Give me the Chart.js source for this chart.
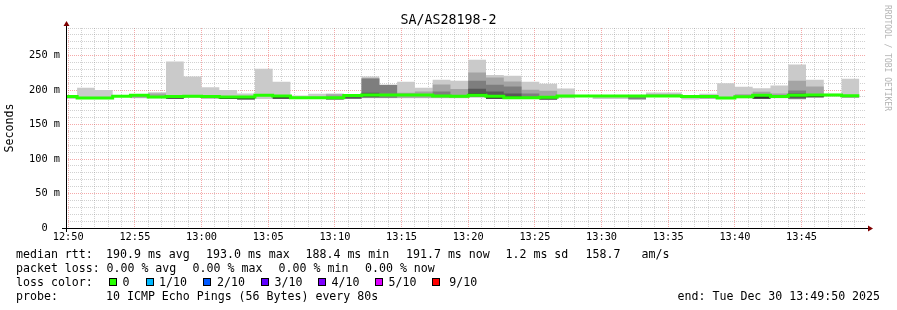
<!DOCTYPE html>
<html lang="en">
  <head>
    <meta charset="UTF-8" />
    <title>SA/AS28198-2</title>
    <style>
      body { margin: 0; background: #fff; }
      #wrap { position: relative; width: 897px; height: 310px; font-family: 'DejaVu Sans Mono', monospace; color: #000; }
      #chart { position: absolute; left: 0; top: 0; }
      #title { position: absolute; left: 0; top: 11.9px; width: 897px; text-align: center; font-size: 13.3px; line-height: 16px; }
      #mark { position: absolute; left: 891px; top: 5px; font-size: 8px; line-height: 8px; color: #b4b4b4; transform-origin: 0 0; transform: rotate(90deg); white-space: pre; }
      .t { position: absolute; white-space: pre; font-size: 11.6px; line-height: 14px; }
      .box { position: absolute; top: 277.5px; width: 6px; height: 6px; border: 1px solid #000; }
    </style>
  </head>
  <body>
    <div id="wrap">
      <canvas id="chart" width="897" height="310"></canvas>
      <div id="title">SA/AS28198-2</div>
      <div id="mark">RRDTOOL / TOBI OETIKER</div>

      <div class="t" style="left:16px;top:247px">median rtt:</div>
      <div class="t" style="left:106px;top:247px">190.9 ms avg</div>
      <div class="t" style="left:206px;top:247px">193.0 ms max</div>
      <div class="t" style="left:305.5px;top:247px">188.4 ms min</div>
      <div class="t" style="left:406px;top:247px">191.7 ms now</div>
      <div class="t" style="left:505.5px;top:247px">1.2 ms sd</div>
      <div class="t" style="left:585.5px;top:247px">158.7</div>
      <div class="t" style="left:641.5px;top:247px">am/s</div>

      <div class="t" style="left:16px;top:261px">packet loss:</div>
      <div class="t" style="left:106.5px;top:261px">0.00 % avg</div>
      <div class="t" style="left:192.6px;top:261px">0.00 % max</div>
      <div class="t" style="left:278.6px;top:261px">0.00 % min</div>
      <div class="t" style="left:365px;top:261px">0.00 % now</div>

      <div class="t" style="left:16px;top:275px">loss color:</div>
      <div class="box" style="left:108.5px;background:#26ff00"></div>
      <div class="t" style="left:122.6px;top:275px">0</div>
      <div class="box" style="left:145.5px;background:#00b8ff"></div>
      <div class="t" style="left:159px;top:275px">1/10</div>
      <div class="box" style="left:203px;background:#0059ff"></div>
      <div class="t" style="left:217px;top:275px">2/10</div>
      <div class="box" style="left:260.5px;background:#5e00ff"></div>
      <div class="t" style="left:274.6px;top:275px">3/10</div>
      <div class="box" style="left:317.5px;background:#7e00ff"></div>
      <div class="t" style="left:331.6px;top:275px">4/10</div>
      <div class="box" style="left:374.5px;background:#dd00ff"></div>
      <div class="t" style="left:388.6px;top:275px">5/10</div>
      <div class="box" style="left:432px;background:#ff0000"></div>
      <div class="t" style="left:449.3px;top:275px">9/10</div>

      <div class="t" style="left:16px;top:289px">probe:</div>
      <div class="t" style="left:106px;top:289px">10 ICMP Echo Pings (56 Bytes) every 80s</div>
      <div class="t" style="left:677.6px;top:289px">end: Tue Dec 30 13:49:50 2025</div>
    </div>

    <script src="https://cdn.jsdelivr.net/npm/chart.js"></script>
    <script>
      // one value per 80 s step, 12:49:50 .. 13:49:10 (ms)
      const median = [
        190.5, 188.5, 188.5, 191.0, 192.6, 190.0, 190.5, 191.0, 190.5, 190.0,
        190.0, 192.5, 191.5, 188.8, 188.8, 188.8, 192.2, 193.0, 193.0, 192.8,
        192.8, 191.5, 191.0, 192.6, 191.2, 188.8, 188.8, 189.5, 191.4, 191.4,
        191.5, 191.5, 191.5, 191.5, 191.5, 190.5, 190.5, 188.4, 190.2, 192.4,
        190.5, 192.4, 192.8, 193.0, 191.7
      ];
      const pingMax = [
        193.0, 203.5, 200.0, 192.0, 194.0, 197.0, 241.5, 219.5, 204.0, 200.0,
        195.0, 231.0, 212.0, 192.0, 194.5, 195.0, 193.5, 219.7, 208.0, 212.0,
        203.3, 215.0, 213.5, 244.0, 222.0, 220.7, 212.0, 209.0, 202.4, 192.0,
        192.0, 192.0, 192.0, 196.6, 196.6, 191.0, 194.6, 210.0, 204.8, 202.8,
        206.7, 237.0, 215.0, 194.5, 216.4
      ];
      const pingMin = [
        187.0, 187.0, 187.0, 190.0, 188.0, 188.0, 187.0, 189.0, 188.0, 187.0,
        186.5, 187.0, 187.0, 188.0, 187.5, 187.5, 187.5, 188.0, 188.0, 188.0,
        188.0, 188.0, 188.0, 189.0, 187.0, 187.0, 187.0, 186.0, 188.0, 190.5,
        187.0, 187.0, 186.0, 190.0, 190.0, 186.5, 188.0, 187.0, 188.0, 187.0,
        188.0, 186.5, 189.0, 190.5, 189.0
      ];
      const band2Hi = [
        190.5, 188.5, 188.5, 191.0, 193.0, 195.0, 190.5, 191.0, 190.5, 190.0,
        190.0, 192.5, 191.5, 188.8, 188.8, 194.0, 192.2, 217.5, 207.5, 196.0,
        198.0, 208.0, 201.5, 225.5, 218.3, 212.5, 200.4, 199.0, 191.4, 191.4,
        191.5, 191.5, 191.5, 194.0, 194.0, 190.5, 190.5, 188.4, 194.0, 197.5,
        195.0, 213.5, 205.2, 193.0, 191.7
      ];
      const band2Lo = [
        190.5, 188.5, 188.5, 191.0, 189.0, 189.0, 190.5, 191.0, 190.5, 190.0,
        190.0, 192.5, 191.5, 188.8, 188.8, 188.0, 192.2, 188.5, 188.5, 189.0,
        189.0, 189.0, 189.0, 190.0, 187.5, 187.5, 187.5, 187.0, 191.4, 191.4,
        191.5, 191.5, 186.5, 190.5, 190.5, 190.5, 187.5, 188.4, 188.5, 187.5,
        188.5, 187.0, 189.5, 193.0, 191.7
      ];
      const band3Hi = [
        190.5, 188.5, 188.5, 191.0, 192.6, 190.0, 190.5, 191.0, 190.5, 190.0,
        190.0, 192.5, 191.5, 188.8, 188.8, 188.8, 192.2, 216.4, 207.2, 192.8,
        192.8, 198.0, 191.0, 213.5, 207.7, 205.0, 195.0, 189.5, 191.4, 191.4,
        191.5, 191.5, 191.0, 191.5, 191.5, 190.5, 190.5, 188.4, 190.2, 192.4,
        190.5, 199.5, 192.8, 193.0, 191.7
      ];
      const band3Lo = [
        190.5, 188.5, 188.5, 191.0, 192.6, 190.0, 190.5, 191.0, 190.5, 190.0,
        190.0, 192.5, 191.5, 188.8, 188.8, 188.8, 192.2, 189.0, 189.0, 192.8,
        192.8, 190.0, 191.0, 190.5, 188.0, 188.0, 188.0, 189.5, 191.4, 191.4,
        191.5, 191.5, 187.0, 191.5, 191.5, 190.5, 190.5, 188.4, 190.2, 192.4,
        190.5, 187.5, 192.8, 193.0, 191.7
      ];
      const band4Hi = [
        190.5, 188.5, 188.5, 191.0, 192.6, 190.0, 190.5, 191.0, 190.5, 190.0,
        190.0, 192.5, 191.5, 188.8, 188.8, 188.8, 192.0, 196.0, 193.0, 192.8,
        192.8, 191.5, 191.0, 202.0, 198.0, 195.0, 188.8, 189.0, 191.4, 191.4,
        191.5, 191.5, 191.5, 191.5, 191.5, 190.5, 190.5, 188.4, 190.2, 192.4,
        190.5, 195.0, 192.8, 193.0, 191.7
      ];
      const band4Lo = [
        190.5, 188.5, 188.5, 191.0, 192.6, 190.0, 190.5, 191.0, 190.5, 190.0,
        190.0, 192.5, 191.5, 188.8, 188.8, 188.8, 187.5, 190.0, 193.0, 192.8,
        192.8, 191.5, 191.0, 191.0, 188.5, 188.0, 188.8, 186.0, 191.4, 191.4,
        191.5, 191.5, 191.5, 191.5, 191.5, 190.5, 190.5, 188.4, 190.2, 192.4,
        190.5, 188.0, 192.8, 193.0, 191.7
      ];
      const innerHi = [
        190.5, 188.5, 188.5, 191.0, 192.6, 190.0, 190.0, 191.0, 190.5, 190.0,
        190.0, 192.5, 191.0, 188.8, 188.8, 188.8, 192.2, 193.0, 193.0, 192.8,
        192.8, 191.5, 191.0, 195.0, 193.0, 191.0, 188.8, 189.5, 191.4, 191.4,
        191.5, 191.5, 191.5, 191.5, 191.5, 190.5, 190.5, 188.4, 190.2, 192.0,
        190.5, 194.0, 192.8, 193.0, 191.7
      ];
      const innerLo = [
        190.5, 188.5, 188.5, 191.0, 192.6, 190.0, 187.5, 191.0, 188.0, 187.0,
        186.5, 192.5, 187.5, 188.8, 188.8, 186.5, 192.2, 193.0, 193.0, 192.8,
        192.8, 191.5, 191.0, 191.5, 187.5, 188.5, 188.8, 189.5, 191.4, 191.4,
        191.5, 191.5, 191.5, 191.5, 191.5, 190.5, 190.5, 188.4, 190.2, 187.5,
        190.5, 190.0, 189.5, 193.0, 189.5
      ];

      // x is seconds after 12:50:00; rrd steps are 80 s wide
      const startSec = -10;
      const endSec = 3590;
      const edges = [startSec];
      for (let t = 40; t <= 3560; t += 80) edges.push(t);

      const minuteTicks = [];
      for (let t = 0; t < endSec; t += 60) minuteTicks.push({ value: t });
      const rttTicks = [];
      for (let v = 0; v <= 290; v += 10) rttTicks.push({ value: v });

      function steps(values) {
        return edges.map((x, i) => ({ x: x, y: values[Math.min(i, values.length - 1)] }));
      }

      function clock(sec) {
        const m = 12 * 60 + 50 + sec / 60;
        return Math.floor(m / 60) + ':' + String(m % 60).padStart(2, '0');
      }

      const smoke = [
        [pingMin, pingMax, '#cacaca'],
        [band2Lo, band2Hi, '#a4a4a4'],
        [band3Lo, band3Hi, '#7e7e7e'],
        [band4Lo, band4Hi, '#585858'],
        [innerLo, innerHi, '#323232']
      ];

      const datasets = [
        {
          label: 'median',
          data: steps(median),
          stepped: true,
          borderColor: '#26ff00',
          borderWidth: 3,
          pointRadius: 0,
          fill: false,
          clip: 0,
          order: 0
        }
      ];
      smoke.forEach(function (band, k) {
        const order = 10 - 2 * k;
        datasets.push({
          data: steps(band[0]),
          stepped: true,
          borderColor: 'rgba(0,0,0,0)',
          borderWidth: 0,
          pointRadius: 0,
          fill: false,
          clip: 0,
          order: order
        });
        datasets.push({
          data: steps(band[1]),
          stepped: true,
          borderColor: 'rgba(0,0,0,0)',
          borderWidth: 0,
          pointRadius: 0,
          backgroundColor: band[2],
          fill: '-1',
          clip: 0,
          order: order
        });
      });

      const minorGrid = 'rgba(140,140,140,0.4)';
      const majorGrid = 'rgba(230,40,40,0.4)';
      const tickFont = { family: 'DejaVu Sans Mono', size: 10.3 };

      const axisArrows = {
        id: 'axisArrows',
        afterDraw(chart) {
          const { ctx, chartArea: a } = chart;
          ctx.save();
          ctx.strokeStyle = '#000';
          ctx.lineWidth = 1;
          ctx.beginPath();
          ctx.moveTo(a.left - 4, a.bottom + 0.5);
          ctx.lineTo(a.right + 4, a.bottom + 0.5);
          ctx.moveTo(a.left + 0.5, a.bottom + 4);
          ctx.lineTo(a.left + 0.5, a.top - 4);
          ctx.stroke();
          ctx.fillStyle = '#7f0000';
          ctx.beginPath();
          ctx.moveTo(a.right + 2, a.bottom - 2.5);
          ctx.lineTo(a.right + 7, a.bottom + 0.5);
          ctx.lineTo(a.right + 2, a.bottom + 3.5);
          ctx.fill();
          ctx.beginPath();
          ctx.moveTo(a.left - 2.5, a.top - 2);
          ctx.lineTo(a.left + 0.5, a.top - 7);
          ctx.lineTo(a.left + 3.5, a.top - 2);
          ctx.fill();
          ctx.restore();
        }
      };

      new Chart(document.getElementById('chart'), {
        type: 'line',
        data: { datasets: datasets },
        plugins: [axisArrows],
        options: {
          responsive: false,
          devicePixelRatio: 1,
          animation: false,
          events: [],
          layout: { padding: { top: 28, left: 0, right: 31, bottom: 0 } },
          plugins: { legend: { display: false }, tooltip: { enabled: false } },
          scales: {
            x: {
              type: 'linear',
              min: startSec,
              max: endSec,
              z: 1,
              afterBuildTicks: (scale) => { scale.ticks = minuteTicks.slice(); },
              afterFit: (scale) => { scale.height = 82; },
              ticks: {
                autoSkip: false,
                maxRotation: 0,
                padding: 3,
                color: '#000',
                font: tickFont,
                callback: (v) => (v % 300 === 0 ? clock(v) : '')
              },
              grid: {
                drawTicks: false,
                lineWidth: 1,
                color: (c) => (c.tick && c.tick.value % 300 === 0 ? majorGrid : minorGrid)
              },
              border: { display: false, dash: [1, 1] }
            },
            y: {
              type: 'linear',
              min: 0,
              max: 290,
              z: 1,
              afterBuildTicks: (scale) => { scale.ticks = rttTicks.slice(); },
              afterFit: (scale) => { scale.width = 66; },
              ticks: {
                autoSkip: false,
                padding: 6,
                color: '#000',
                font: tickFont,
                callback: (v) => (v % 50 === 0 ? (v === 0 ? '0  ' : v + ' m') : '')
              },
              grid: {
                drawTicks: false,
                lineWidth: 1,
                color: (c) => (c.tick && c.tick.value % 50 === 0 ? majorGrid : minorGrid)
              },
              border: { display: false, dash: [1, 1] },
              title: {
                display: true,
                text: 'Seconds',
                color: '#000',
                padding: { top: 3, bottom: 0 },
                font: { family: 'DejaVu Sans Mono', size: 11.6 }
              }
            }
          }
        }
      });
    </script>
  </body>
</html>
